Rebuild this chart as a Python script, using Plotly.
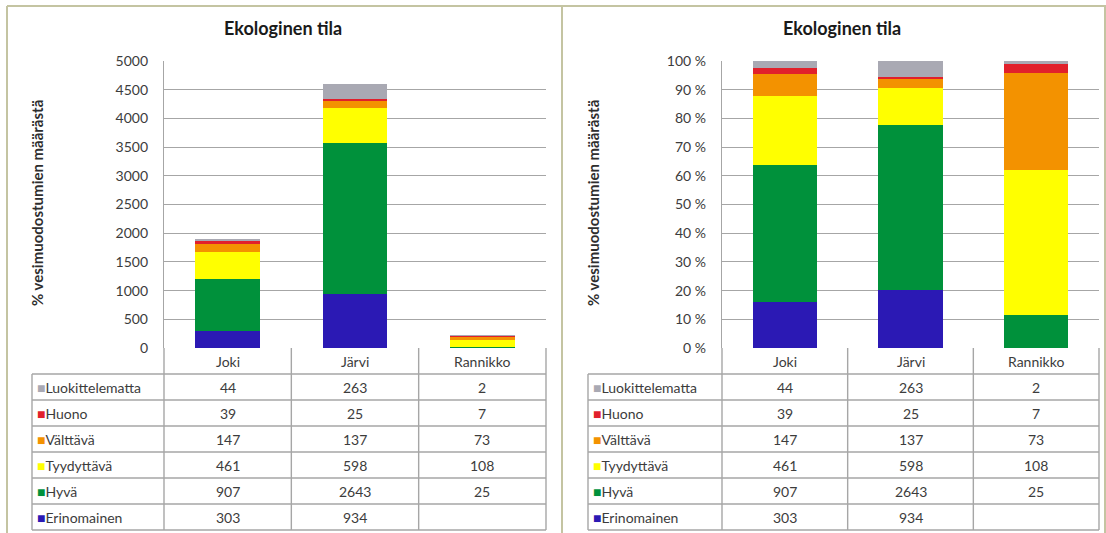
import plotly.graph_objects as go

W, H = 1106, 533

categories = ["Joki", "Järvi", "Rannikko"]
# stacking order bottom -> top
series_names = ["Erinomainen", "Hyvä", "Tyydyttävä", "Välttävä", "Huono", "Luokittelematta"]
erinomainen = [303, 934, None]
hyva = [907, 2643, 25]
tyydyttava = [461, 598, 108]
valttava = [147, 137, 73]
huono = [39, 25, 7]
luokittelematta = [44, 263, 2]
series_values = [erinomainen, hyva, tyydyttava, valttava, huono, luokittelematta]
colors = ["#2b19b4", "#00913b", "#ffff00", "#f39200", "#e1202b", "#a9a9b3"]

title_text = "Ekologinen tila"
ytitle_text = "% vesimuodostumien määrästä"
left_ticks = list(range(0, 5001, 500))
right_ticks = list(range(0, 101, 10))

FONT = "Lato"
TXT = "#3c3c3c"
GRID = "#a6a6a6"
TABLE = "#a6a6a6"
BORDER = "#c4c4a2"
FS = 14


def xp(x):
    return x / W


def yp(y):
    return 1 - y / H


totals = [sum(v[j] or 0 for v in series_values) for j in range(len(categories))]

fig = go.Figure()
for name, vals, col in zip(series_names, series_values, colors):
    fig.add_trace(go.Bar(x=categories, y=[v or 0 for v in vals], name=name,
                         marker=dict(color=col, line=dict(width=0)),
                         xaxis="x", yaxis="y", showlegend=False))
for name, vals, col in zip(series_names, series_values, colors):
    pct = [(v or 0) / t * 100 for v, t in zip(vals, totals)]
    fig.add_trace(go.Bar(x=categories, y=pct, name=name,
                         marker=dict(color=col, line=dict(width=0)),
                         xaxis="x2", yaxis="y2", showlegend=False))

panels = [
    dict(pl=164, pr=546, ll=32, x0=7, x1=562, xa="x", ya="y", tc=283),
    dict(pl=722, pr=1099, ll=588, x0=562, x1=1106, xa="x2", ya="y2", tc=842),
]

plot_top, plot_bot = 61, 348
row_h = 26
header_bot = 374
n_rows = len(series_names)
table_bot = header_bot + n_rows * row_h


def line(x0, y0, x1, y1, color, width):
    return dict(type="line", xref="paper", yref="paper",
                x0=xp(x0), x1=xp(x1), y0=yp(y0), y1=yp(y1),
                line=dict(color=color, width=width))


shapes = []
annotations = []
for p in panels:
    shapes.append(line(p["x0"], 6, p["x1"], 6, BORDER, 2))
    shapes.append(line(p["x0"], 6, p["x0"], 533, BORDER, 2))
    colw = (p["pr"] - p["pl"]) / 3
    for k in range(4):
        xx = p["pl"] + k * colw
        shapes.append(line(xx, plot_bot, xx, table_bot, TABLE, 1.4))
    shapes.append(line(p["ll"], header_bot, p["ll"], table_bot, TABLE, 1.4))
    for r in range(n_rows + 1):
        yy = header_bot + r * row_h
        shapes.append(line(p["ll"], yy, p["pr"], yy, TABLE, 1.4))
    annotations.append(dict(text="<b>" + title_text + "</b>", xref="paper", yref="paper",
                            x=xp(p["tc"]), y=yp(28), xanchor="center", yanchor="middle",
                            showarrow=False, font=dict(family=FONT, size=18, color="#1a1a1a")))
    annotations.append(dict(text="<b>" + ytitle_text + "</b>", xref="paper", yref="paper",
                            x=xp(p["ll"] + 5), y=yp(203), textangle=-90,
                            xanchor="center", yanchor="middle",
                            showarrow=False, font=dict(family=FONT, size=15, color="#2e2e2e")))
    for c in categories:
        annotations.append(dict(text=c, xref=p["xa"], yref="paper", x=c, y=yp(361),
                                xanchor="center", yanchor="middle",
                                showarrow=False, font=dict(family=FONT, size=FS, color=TXT)))
    for r, idx in enumerate(reversed(range(n_rows))):
        yc = header_bot + r * row_h + row_h / 2
        annotations.append(dict(
            text="<span style='color:%s'>■</span>%s" % (colors[idx], series_names[idx]),
            xref="paper", yref="paper", x=xp(p["ll"] + 3), y=yp(yc),
            xanchor="left", yanchor="middle", showarrow=False,
            font=dict(family=FONT, size=FS, color=TXT)))
        for j, c in enumerate(categories):
            v = series_values[idx][j]
            annotations.append(dict(text="" if v is None else str(v), xref=p["xa"], yref="paper",
                                    x=c, y=yp(yc), xanchor="center", yanchor="middle",
                                    showarrow=False, font=dict(family=FONT, size=FS, color=TXT)))
shapes.append(line(1105, 6, 1105, 533, BORDER, 2))

axis_common = dict(showgrid=False, zeroline=False, showticklabels=False, showline=False,
                   fixedrange=True, automargin=False)
yaxis_common = dict(showgrid=True, gridcolor=GRID, gridwidth=1.4, zeroline=False,
                    showline=True, linecolor=GRID, linewidth=1.4, ticks="",
                    ticklabelstandoff=12, automargin=False, fixedrange=True,
                    tickfont=dict(family=FONT, size=FS, color=TXT))

fig.update_layout(
    width=W, height=H,
    margin=dict(l=0, r=0, t=0, b=0, pad=0, autoexpand=False),
    paper_bgcolor="white", plot_bgcolor="rgba(0,0,0,0)",
    barmode="stack", bargap=0.49,
    xaxis=dict(domain=[xp(164), xp(546)], range=[-0.5, 2.5], anchor="y", **axis_common),
    xaxis2=dict(domain=[xp(722), xp(1099)], range=[-0.5, 2.5], anchor="y2", **axis_common),
    yaxis=dict(domain=[yp(plot_bot), yp(plot_top)], range=[0, 5000], tickvals=left_ticks,
               anchor="x", **yaxis_common),
    yaxis2=dict(domain=[yp(plot_bot), yp(plot_top)], range=[0, 100], tickvals=right_ticks,
                ticktext=["%d %%" % t for t in right_ticks], anchor="x2", **yaxis_common),
    shapes=shapes, annotations=annotations,
)

fig.write_html("out.html")
